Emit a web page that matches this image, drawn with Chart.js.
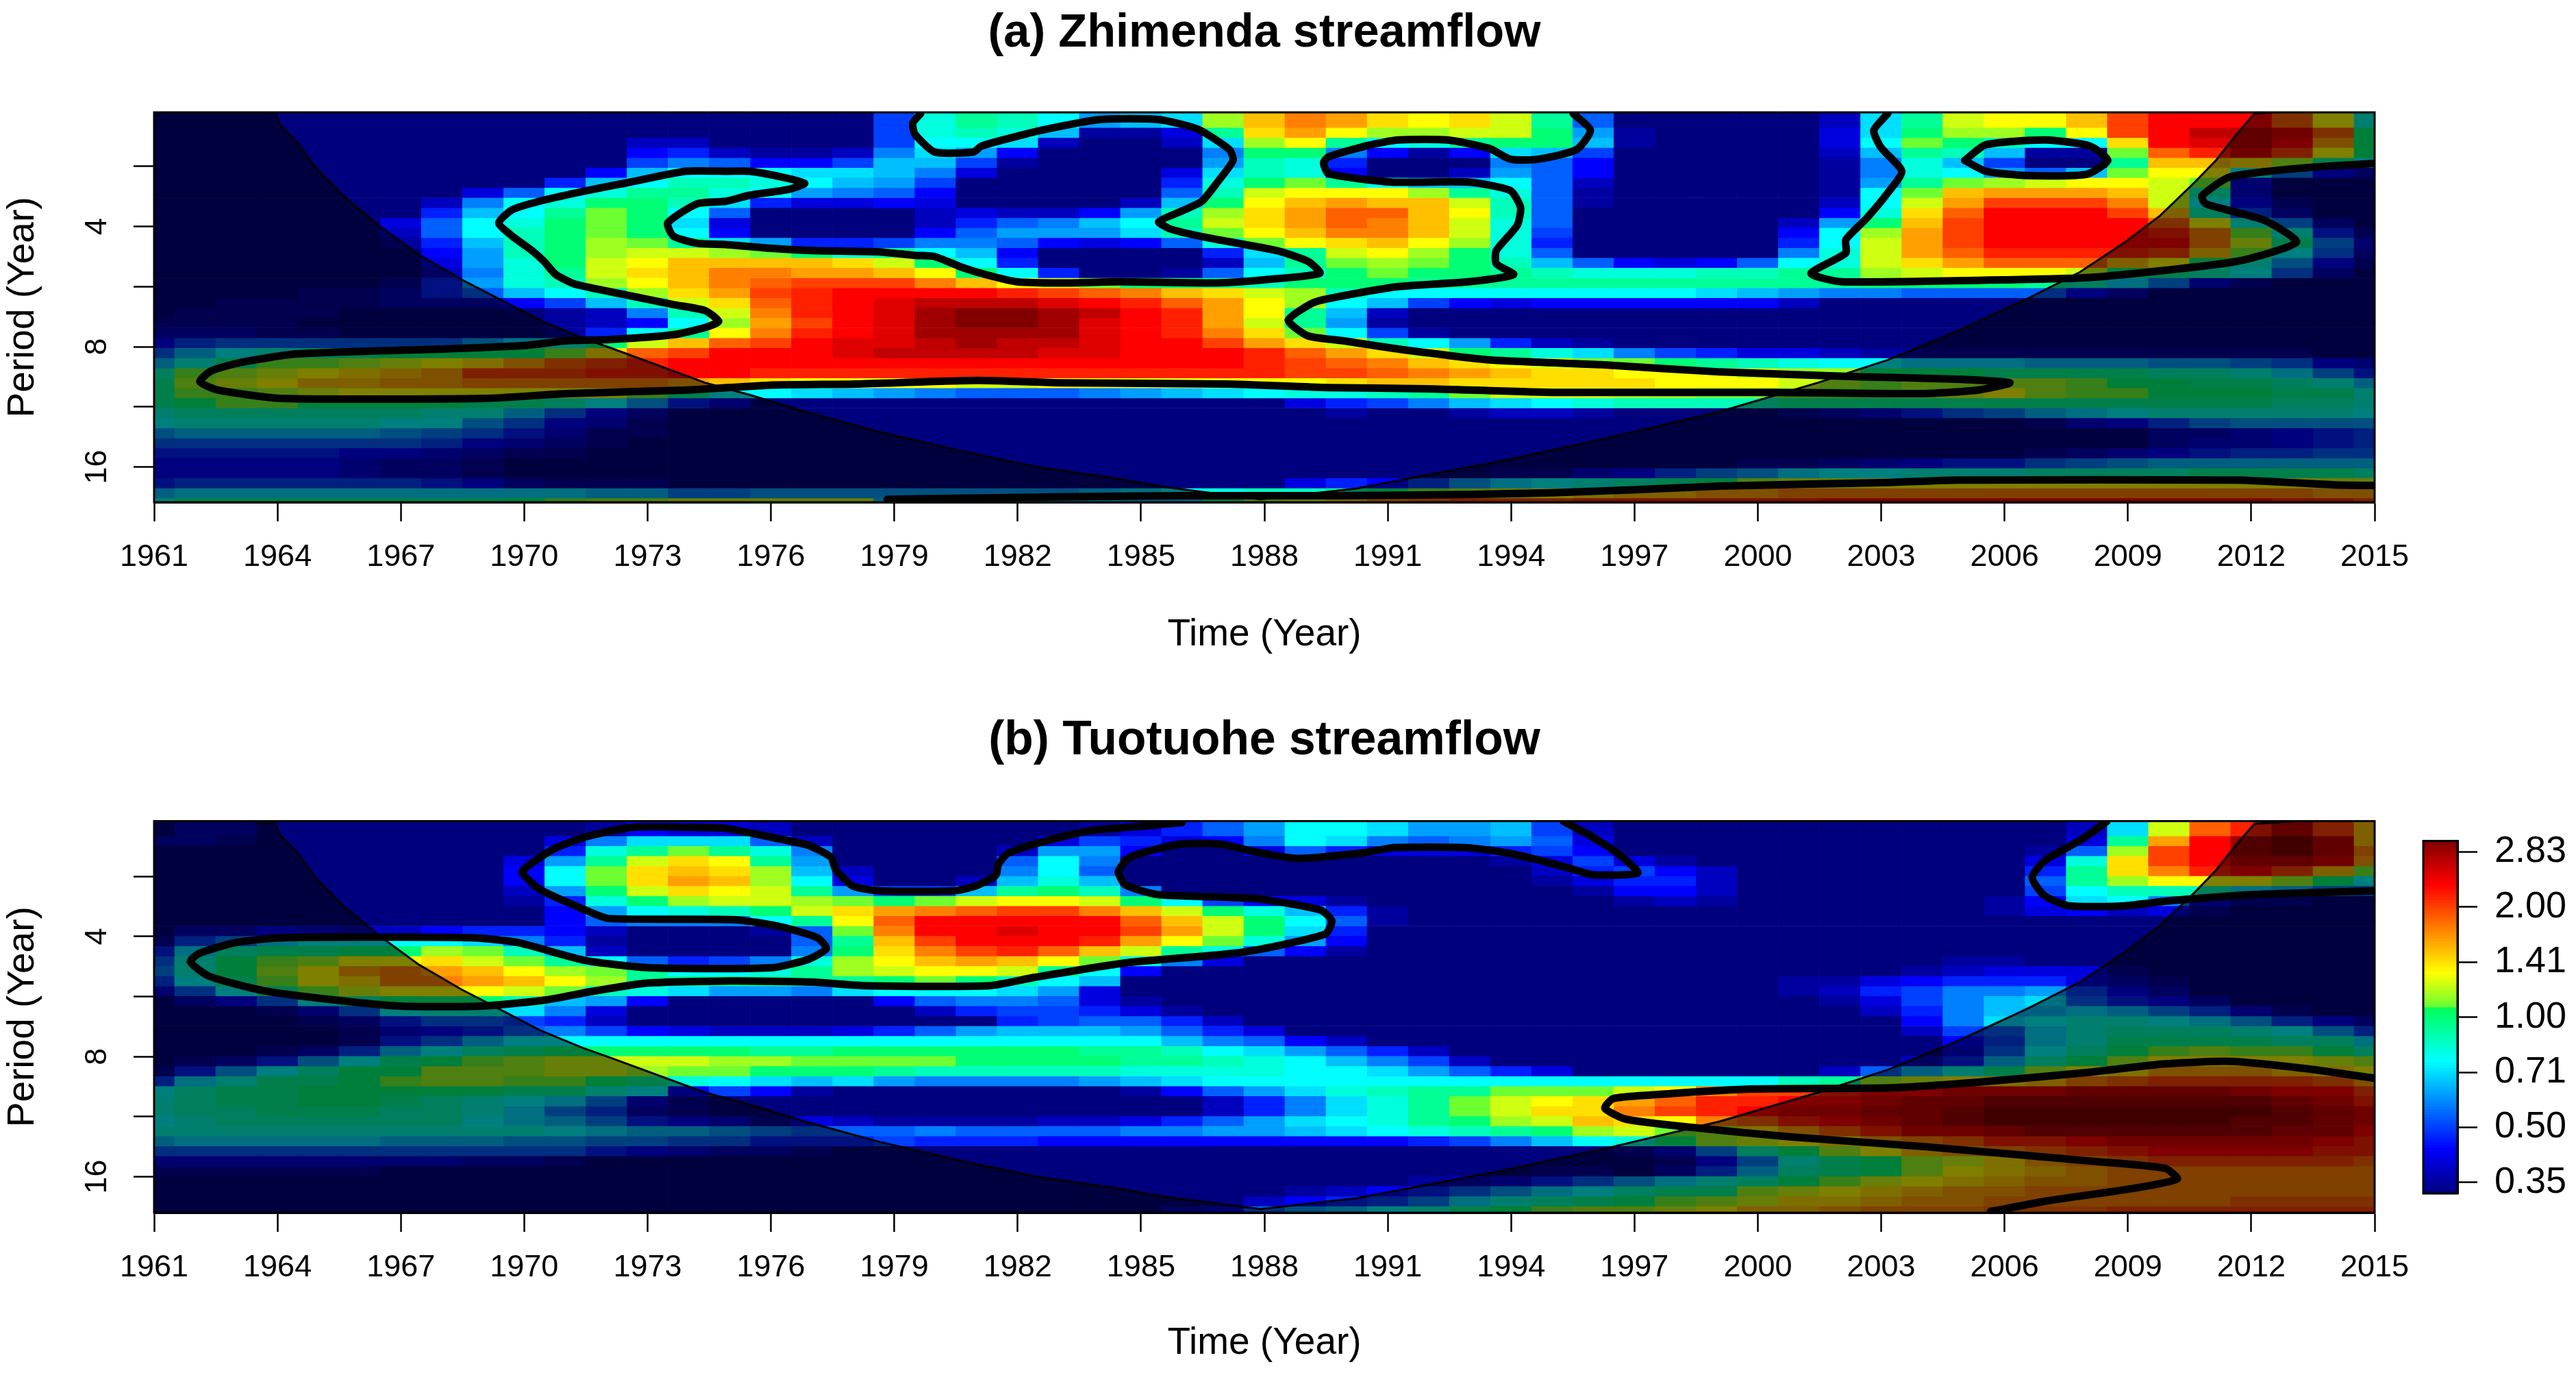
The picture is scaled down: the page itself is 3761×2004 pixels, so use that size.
<!DOCTYPE html>
<html>
<head>
<meta charset="utf-8">
<title>Wavelet power</title>
<script src="https://cdn.jsdelivr.net/npm/chart.js@4/dist/chart.umd.js"></script>
<style>
  html, body { margin: 0; padding: 0; background: #fff; }
  body { position: relative; width: 3761px; height: 2004px; overflow: hidden; }
  canvas { position: absolute; display: block; }
</style>
</head>
<body>
<canvas id="panel-a" width="3761" height="1000" style="left:0;top:0"></canvas>
<canvas id="panel-b" width="3761" height="970" style="left:0;top:1034px"></canvas>
<canvas id="colour-bar" width="261" height="630" style="left:3500px;top:1170px"></canvas>
<script>
// Cell values are colour levels: power = 2^((level - 16) / 10)
// Each row is one period band, top of the plot first, one value per year 1961..2015
const a00 = [0,0,0,0,0,0,0,0,0,0,0,0,0,0,0, 0,0,0,6,13,15,14,12,9,10,11,18,22,24,23, 21,20,21,19,15,7,0,0,0,0,0,2,11,15,19, 20,20,22,26,28,28,28,25,20,13];
const a01 = [0,0,0,0,0,0,0,0,0,0,0,0,0,0,0, 0,0,0,6,13,14,13,10,1,1,3,15,21,23,20, 18,18,19,19,16,9,1,0,0,0,0,3,11,16,18, 18,16,20,26,28,30,30,29,25,16];
const a02 = [0,0,0,0,0,0,0,0,0,0,0,0,2,2,0, 0,0,0,6,12,12,11,2,0,0,2,11,18,20,15, 12,13,15,16,16,10,1,0,0,0,0,3,12,17,16, 14,12,12,21,28,29,30,28,23,16];
const a03 = [0,0,0,0,0,0,0,0,0,0,0,0,4,5,2, 1,1,2,8,11,9,4,0,0,0,0,8,16,16,8, 4,1,4,11,10,6,0,0,0,0,0,2,10,15,14, 10,1,1,17,25,27,29,26,20,16];
const a04 = [0,0,0,0,0,0,0,0,0,0,0,0,6,8,7, 4,4,6,10,10,6,1,0,0,0,0,9,14,13,5, 0,0,0,8,7,4,0,0,0,0,0,1,8,13,10, 6,0,0,15,22,22,21,18,15,12];
const a05 = [0,0,0,0,0,0,0,0,0,0,0,4,10,12,12, 12,11,11,10,8,3,0,0,0,0,3,11,14,13,4, 0,0,2,9,7,4,0,0,0,0,0,1,8,13,12, 9,7,10,17,20,20,12,8,4,2];
const a06 = [0,0,0,0,0,0,0,0,0,0,5,10,12,14,14, 13,12,10,9,6,0,0,0,0,0,5,13,16,17,15, 12,10,10,12,7,2,0,0,0,0,0,1,9,15,17, 18,19,20,20,19,17,3,0,0,0];
const a07 = [0,0,0,0,0,0,0,0,3,7,12,13,15,15,13, 12,9,8,7,4,0,0,0,0,0,7,14,19,20,20, 20,18,15,13,7,1,0,0,0,0,0,1,12,17,22, 23,23,23,22,19,14,3,0,0,0];
const a08 = [0,0,0,0,0,0,0,2,8,12,13,16,16,14,11, 5,3,3,4,3,0,0,0,0,2,10,16,20,22,23, 22,22,19,14,7,1,0,0,0,0,0,2,12,19,23, 26,26,26,24,19,12,4,1,0,0];
const a09 = [0,0,0,0,0,0,0,5,10,12,15,17,16,12,7, 0,0,0,0,2,3,2,2,4,9,14,18,21,23,25, 25,22,20,14,7,0,0,0,0,0,0,4,13,21,25, 28,28,28,26,22,14,6,2,0,0];
const a10 = [0,0,0,0,0,0,3,7,12,13,16,17,16,11,3, 0,0,0,0,2,5,7,8,10,12,15,19,21,23,25, 24,22,19,13,7,0,0,0,0,0,2,9,16,22,26, 28,28,28,28,25,20,13,8,2,0];
const a11 = [0,0,0,0,0,0,2,7,12,14,16,17,16,12,4, 0,0,0,0,4,7,9,9,9,11,14,17,20,22,24, 24,22,19,13,6,0,0,0,0,0,4,12,18,23,26, 28,28,28,28,27,24,17,13,5,1];
const a12 = [0,0,0,0,0,0,1,5,10,14,16,18,17,15,11, 9,5,5,6,8,8,7,4,3,4,7,13,17,20,21, 22,20,18,13,5,0,0,0,0,0,5,12,19,23,26, 28,28,28,28,28,24,19,15,8,3];
const a13 = [0,0,0,0,0,0,0,4,9,14,16,18,19,19,18, 17,16,13,15,12,10,4,0,0,0,0,5,11,15,19, 20,18,16,13,7,0,0,0,0,0,8,13,19,23,25, 27,27,27,27,26,22,17,12,7,2];
const a14 = [0,0,0,0,0,0,0,3,9,13,16,19,20,22,22, 22,22,21,19,16,12,5,0,0,0,0,2,10,15,17, 18,17,16,14,10,7,4,3,4,7,12,13,19,21,23, 25,25,25,22,20,16,13,9,4,1];
const a15 = [0,0,0,0,0,0,0,2,8,13,15,19,21,22,24, 24,23,23,22,20,16,12,5,0,0,1,7,12,14,16, 17,16,16,15,14,13,13,13,14,14,15,15,18,19,20, 20,20,19,16,15,14,12,7,2,0];
const a16 = [0,0,0,0,0,0,1,5,9,13,14,18,20,22,24, 25,26,26,26,24,22,20,19,17,16,16,15,14,16,16, 16,15,15,15,15,15,15,15,15,15,15,15,16,16,16, 16,15,14,11,8,3,1,0,0,0];
const a17 = [0,0,0,0,1,1,2,5,7,10,12,14,18,21,23, 26,27,28,28,28,28,27,26,25,24,22,21,19,18,14, 12,12,12,12,12,12,12,12,11,10,9,8,8,7,7, 7,7,4,2,0,0,0,0,0,0];
const a18 = [0,0,1,1,1,1,2,2,2,4,6,10,14,19,21, 25,27,28,29,30,30,30,29,28,27,25,23,20,18,12, 10,6,4,3,4,4,4,4,4,4,2,0,0,0,0, 0,0,0,0,0,0,0,0,0,0];
const a19 = [0,1,1,1,1,0,0,0,0,0,1,2,8,14,19, 24,27,28,29,31,32,32,31,30,28,27,23,20,15,10, 2,0,0,0,0,0,0,0,0,0,0,0,0,0,0, 0,0,0,0,0,0,0,0,0,0];
const a20 = [1,1,1,1,0,0,0,0,0,0,1,2,4,12,18, 23,26,28,29,31,32,32,31,29,28,27,23,19,15,9, 1,0,0,0,0,0,0,0,0,0,0,0,0,0,0, 0,0,0,0,0,0,0,0,0,0];
const a21 = [2,2,2,1,1,0,0,0,0,0,1,5,12,15,20, 24,27,28,29,31,31,31,31,29,28,27,24,21,17,12, 6,1,0,0,0,0,0,0,0,0,0,0,0,0,0, 0,0,0,0,0,0,0,0,0,0];
const a22 = [4,6,7,7,7,7,7,7,9,11,13,16,19,22,25, 26,28,29,29,30,31,30,30,29,28,28,26,23,21,19, 14,12,9,5,2,1,0,0,0,0,0,0,0,0,0, 0,0,0,0,0,0,0,0,0,0];
const a23 = [7,10,12,13,14,15,16,16,16,16,17,21,25,26,28, 28,28,29,30,30,30,30,29,29,28,28,28,27,25,23, 21,19,16,15,13,11,8,6,5,3,3,2,1,1,1, 1,1,1,1,1,1,1,1,0,0];
const a24 = [10,13,15,17,17,18,19,20,21,23,25,26,27,28,28, 28,28,28,28,28,28,28,28,28,28,28,28,27,26,25, 24,22,21,20,19,17,17,16,15,14,13,12,12,11,11, 11,10,10,10,9,9,8,7,4,3];
const a25 = [14,17,18,19,20,21,22,23,26,26,26,27,27,28,28, 27,27,27,27,27,27,27,27,27,27,27,27,27,26,26, 25,24,23,22,21,21,20,20,20,19,18,18,16,16,16, 15,15,15,15,14,14,13,11,8,5];
const a26 = [15,18,19,20,22,22,23,23,24,24,24,24,24,23,22, 21,20,20,20,20,19,19,20,20,20,20,20,20,20,21, 22,22,21,21,21,21,21,20,20,20,19,18,17,18,18, 18,18,17,16,16,15,15,14,13,10];
const a27 = [15,17,17,18,19,20,20,20,20,20,20,20,17,15,12, 12,11,10,9,8,7,7,7,8,9,10,11,12,13,13, 14,15,17,19,19,19,18,18,17,17,17,17,17,18,19, 20,18,17,17,16,16,16,15,15,13];
const a28 = [15,16,17,17,16,16,16,16,15,15,14,12,9,5,3, 0,0,0,0,0,0,0,0,0,0,0,0,0,3,5, 6,8,10,11,12,13,14,14,14,14,15,15,15,15,15, 15,15,15,15,15,15,15,14,14,13];
const a29 = [13,14,14,14,14,14,14,13,13,10,7,4,2,0,0, 0,0,0,0,0,0,0,0,0,0,0,0,0,0,1, 0,0,1,2,2,1,0,0,0,0,1,2,3,5,7, 8,10,11,12,13,13,13,13,13,12];
const a30 = [12,13,13,13,13,13,12,12,9,7,4,3,1,0,0, 0,0,0,0,0,0,0,0,0,0,0,0,0,0,0, 0,0,0,0,0,0,0,0,0,0,0,0,0,0,0, 0,1,3,4,6,8,9,9,9,9];
const a31 = [9,10,10,10,10,10,9,8,7,5,3,1,1,0,0, 0,0,0,0,0,0,0,0,0,0,0,0,0,0,0, 0,0,0,0,0,0,0,0,0,0,0,0,0,0,0, 0,0,0,0,2,2,3,4,5,6];
const a32 = [7,7,7,7,7,7,7,6,4,3,2,1,0,0,0, 0,0,0,0,0,0,0,0,0,0,0,0,0,0,0, 0,0,0,0,0,0,0,0,0,0,0,0,0,0,0, 0,0,0,0,2,3,3,4,5,6];
const a33 = [5,5,5,5,5,4,4,3,2,1,1,0,0,0,0, 0,0,0,0,0,0,0,0,0,0,0,0,0,0,0, 0,0,0,0,0,0,0,0,0,0,0,0,0,0,0, 0,1,2,3,4,5,6,6,7,7];
const a34 = [4,4,4,4,4,3,2,2,1,0,0,0,0,0,0, 0,0,0,0,0,0,0,0,0,0,0,0,0,0,0, 0,0,0,0,0,0,0,0,0,1,1,2,3,4,5, 5,7,8,9,10,10,10,10,10,10];
const a35 = [4,4,4,4,4,3,2,2,1,0,0,0,0,0,0, 0,0,0,0,0,0,0,0,0,0,0,0,0,0,0, 0,0,0,1,1,3,4,6,8,9,11,12,12,13,13, 13,14,14,14,14,15,15,15,15,14];
const a36 = [5,6,6,6,6,6,6,5,4,2,1,1,1,0,0, 0,0,0,0,0,0,0,0,0,0,0,0,0,3,5, 4,6,9,11,12,13,14,15,16,18,19,19,20,20,20, 20,20,20,20,20,20,20,20,19,19];
const a37 = [10,11,11,11,11,11,11,11,11,11,11,10,10,8,8, 9,9,9,9,9,9,9,9,10,11,12,13,14,14,15, 16,17,18,19,20,21,22,22,23,23,24,24,24,24,24, 24,24,24,24,24,24,24,24,23,23];
const a38 = [13,15,15,15,15,15,15,15,15,16,17,18,18,19,19, 19,19,19,10,10,10,10,10,10,10,10,16,18,19,22, 24,25,26,26,26,27,27,27,27,27,27,28,28,28,28, 28,28,28,28,28,28,28,27,27,26];

const b00 = [0,2,2,0,0,0,0,0,0,0,0,1,4,3,3, 2,0,0,0,0,0,0,0,1,3,5,7,9,12,12, 11,9,9,10,6,2,0,0,0,0,0,0,0,0,0, 0,0,2,11,19,25,27,30,26,22];
const b01 = [2,2,1,0,0,0,0,0,0,0,3,8,11,11,11, 7,2,0,0,0,0,0,3,6,5,3,4,8,12,11, 8,7,8,9,7,3,0,0,0,0,0,0,0,0,0, 0,0,3,15,23,28,31,32,30,22];
const b02 = [0,0,0,0,0,0,0,0,0,0,5,13,15,17,15, 13,8,0,0,0,0,2,9,9,4,0,0,3,7,5, 3,3,3,5,6,4,0,0,0,0,0,0,0,0,0, 0,1,7,18,26,28,31,32,30,24];
const b03 = [0,0,0,0,0,0,0,0,0,3,9,15,19,21,20, 15,9,0,0,0,0,7,12,8,0,0,0,0,0,0, 0,0,0,1,3,6,3,1,0,0,0,0,0,0,0, 0,3,13,21,26,28,30,30,29,23];
const b04 = [0,0,0,0,0,0,0,0,0,4,12,17,21,22,21, 18,10,2,0,0,0,8,12,7,0,0,0,0,0,0, 0,0,0,0,2,5,6,4,2,0,0,0,0,0,0, 0,5,15,21,24,27,28,26,22,17];
const b05 = [0,0,0,0,0,0,0,0,0,4,12,17,21,23,22, 18,12,3,0,0,2,10,13,10,0,0,0,0,0,0, 0,0,0,0,1,3,5,5,2,0,0,0,0,0,0, 0,7,15,18,20,20,20,18,16,12];
const b06 = [0,0,0,0,0,0,0,0,0,2,9,16,19,21,20, 19,15,9,6,6,10,15,16,14,8,0,0,0,0,0, 0,0,0,0,0,1,4,4,2,0,0,0,0,0,0, 0,6,12,14,14,14,11,10,8,7];
const b07 = [0,0,0,0,0,0,0,0,0,1,5,13,16,18,19, 19,18,17,16,17,19,20,20,19,16,12,6,4,3,1, 0,0,0,0,0,0,1,2,1,0,0,0,0,0,0, 1,4,11,12,8,3,1,1,0,0];
const b08 = [0,0,0,0,0,0,0,0,0,0,4,9,12,13,14, 16,19,21,23,24,25,26,26,24,22,19,16,13,10,5, 1,0,0,0,0,0,0,0,0,0,0,0,0,0,0, 1,3,4,2,3,1,0,0,0,0];
const b09 = [0,0,0,0,0,0,0,0,0,0,4,7,8,8,8, 12,15,20,25,28,28,28,28,28,25,22,19,16,12,7, 1,0,0,0,0,0,0,0,0,0,0,0,0,0,0, 0,0,0,0,0,0,0,0,0,0];
const b10 = [0,2,2,4,3,2,2,4,5,5,4,2,0,0,0, 1,7,17,24,28,28,29,28,28,26,23,19,16,11,5, 0,0,0,0,0,0,0,0,0,0,0,0,0,0,0, 0,0,0,0,0,0,0,0,0,0];
const b11 = [1,6,8,11,12,12,12,12,11,8,5,1,0,0,0, 0,7,15,22,26,28,28,28,27,23,20,17,13,9,4, 0,0,0,0,0,0,0,0,0,0,0,0,0,0,0, 0,0,0,0,0,0,0,0,0,0];
const b12 = [5,11,14,15,15,16,16,18,17,14,10,2,0,0,0, 0,8,16,21,24,26,27,25,22,19,15,13,7,4,1, 0,0,0,0,0,0,0,0,0,0,0,0,0,0,0, 0,0,0,0,0,0,0,0,0,0];
const b13 = [7,13,16,17,18,20,20,21,19,17,15,12,7,5,6, 8,13,18,20,22,23,22,20,17,13,8,3,0,0,0, 0,0,0,0,0,0,0,0,0,0,0,0,0,0,1, 1,0,0,0,0,0,0,0,0,0];
const b14 = [8,13,16,18,20,23,24,23,22,20,18,17,15,12,12, 13,15,18,19,20,20,19,15,12,4,0,0,0,0,0, 0,0,0,0,0,0,0,0,0,0,0,0,0,1,2, 3,3,3,1,0,0,0,0,0,0];
const b15 = [6,12,15,17,20,21,24,24,23,22,20,18,15,15,15, 15,15,15,16,17,16,14,12,10,0,0,0,0,0,0, 0,0,0,0,0,0,0,0,0,0,1,1,3,4,5, 5,5,3,2,1,0,0,0,0,0];
const b16 = [3,7,12,15,17,19,20,20,20,19,17,14,13,11,9, 9,8,11,12,12,12,11,9,3,0,0,0,0,0,0, 0,0,0,0,0,0,0,0,0,0,1,2,5,6,8, 8,9,6,4,2,0,0,0,0,0];
const b17 = [0,2,4,7,12,14,16,16,16,14,10,9,4,0,0, 0,0,0,4,7,8,8,7,3,1,0,0,0,0,0, 0,0,0,0,0,0,0,0,0,0,0,1,3,6,8, 10,11,7,5,4,2,0,0,0,0];
const b18 = [0,0,0,1,3,7,12,13,13,11,8,3,0,0,0, 0,0,0,0,2,5,6,6,5,3,1,0,0,0,0, 0,0,0,0,0,0,0,0,0,0,0,0,2,5,8, 10,10,11,10,8,6,3,1,0,0];
const b19 = [0,0,0,0,1,2,5,7,7,6,5,2,0,0,0, 0,0,0,0,0,0,5,6,7,7,5,2,0,0,0, 0,0,0,0,0,0,0,0,0,0,0,0,0,4,8, 11,12,13,13,12,11,9,6,4,2];
const b20 = [0,0,0,0,0,1,3,4,5,7,8,6,4,3,2, 2,2,3,5,7,9,10,10,10,9,7,5,3,0,0, 0,0,0,0,0,0,0,0,0,0,0,0,0,2,6, 7,11,13,14,14,14,13,12,9,6];
const b21 = [0,0,0,0,0,1,5,7,10,12,12,12,12,12,12, 12,12,12,12,12,12,12,12,12,12,10,8,7,4,2, 0,0,0,0,0,0,0,0,0,0,0,0,0,0,4, 6,11,13,15,15,15,15,14,14,11];
const b22 = [0,0,0,1,2,6,10,12,14,15,16,16,16,16,16, 15,15,16,16,16,16,16,16,15,15,14,12,11,9,7, 5,2,0,0,0,0,0,0,0,0,0,0,0,0,3, 7,12,14,16,17,18,17,17,16,14];
const b23 = [0,1,2,5,9,12,15,16,17,18,19,19,19,19,18, 18,17,17,17,17,16,16,16,16,15,15,14,13,12,10, 8,6,2,0,0,0,0,0,0,0,0,0,0,2,5, 10,14,16,18,20,20,20,20,19,18];
const b24 = [1,5,9,12,14,16,16,18,18,18,19,19,18,17,17, 16,16,16,15,14,14,14,14,14,13,13,13,13,12,12, 11,9,7,5,3,0,0,0,0,0,0,2,7,10,13, 15,18,20,21,23,23,23,22,21,20];
const b25 = [6,11,13,15,15,16,17,18,18,17,17,16,15,13,12, 11,10,11,9,8,8,8,8,9,10,11,12,12,12,12, 12,12,12,12,12,12,12,12,12,12,14,15,18,19,20, 21,22,24,25,26,26,26,26,25,23];
const b26 = [12,14,15,15,16,16,16,16,16,15,15,13,12,4,6, 4,1,0,0,0,0,0,0,0,1,4,7,9,11,13, 14,15,15,17,17,17,19,20,24,26,26,27,28,28,29, 29,29,30,30,30,30,29,28,28,26];
const b27 = [13,14,15,15,16,16,15,14,13,12,11,8,3,1,0, 0,0,0,0,0,0,0,0,0,0,0,2,5,8,11, 13,15,17,19,20,21,23,25,27,27,28,28,29,30,30, 31,31,31,31,31,31,31,30,29,27];
const b28 = [13,14,14,15,15,15,14,14,13,11,8,6,2,1,0, 0,0,0,0,0,0,0,0,0,0,0,2,5,8,11, 13,15,17,19,21,21,24,26,27,28,29,29,30,30,31, 32,32,32,32,32,32,32,31,30,29];
const b29 = [12,13,14,14,14,14,14,14,12,11,10,8,5,4,3, 1,3,2,1,1,1,1,2,2,3,5,7,9,11,12, 13,15,16,18,19,22,21,20,24,25,27,28,29,30,31, 32,32,32,32,32,32,31,31,30,29];
const b30 = [13,13,13,13,13,13,13,13,13,13,12,11,10,10,9, 8,7,7,7,8,7,7,7,7,8,8,9,9,10,11, 12,13,14,15,16,18,19,17,18,21,23,25,27,29,29, 30,31,31,31,31,31,31,30,30,28];
const b31 = [10,11,11,11,11,11,10,10,10,9,9,8,8,7,7, 5,5,5,6,5,5,5,4,4,4,4,4,4,4,4, 4,5,6,8,10,12,13,16,18,19,20,21,23,24,25, 27,27,28,29,29,29,29,29,28,27];
const b32 = [7,7,7,7,7,7,7,7,7,7,7,5,4,3,2, 2,1,0,0,0,0,0,0,0,0,0,0,0,0,0, 0,0,0,0,0,0,1,3,8,14,16,18,20,22,23, 24,25,26,27,28,28,28,28,27,27];
const b33 = [3,3,3,3,3,3,3,3,2,2,1,0,0,0,0, 0,0,0,0,0,0,0,0,0,0,0,0,0,0,0, 0,0,0,0,0,0,0,1,4,8,13,15,16,18,19, 21,23,24,25,26,26,26,26,26,25];
const b34 = [1,1,1,1,1,1,0,0,0,0,0,0,0,0,0, 0,0,0,0,0,0,0,0,0,0,0,0,0,0,0, 0,0,0,0,1,1,0,2,6,10,14,15,16,18,20, 21,22,23,24,24,24,24,24,24,24];
const b35 = [0,0,0,0,0,0,0,0,0,0,0,0,0,0,0, 0,0,0,0,0,0,0,0,0,0,0,0,0,0,0, 0,1,2,3,5,7,9,11,13,14,16,17,19,20,21, 22,23,23,24,24,24,24,24,24,24];
const b36 = [0,0,0,0,0,0,0,0,0,0,0,0,0,0,0, 0,0,0,0,0,0,0,0,0,0,0,0,0,1,2, 4,5,7,9,11,12,14,15,15,18,19,20,21,22,23, 23,24,24,24,24,24,24,24,24,24];
const b37 = [0,0,0,0,0,0,0,0,0,0,0,0,0,0,0, 0,0,0,0,0,0,0,0,0,0,0,0,2,4,5, 6,8,11,13,14,15,16,17,18,19,21,21,22,23,23, 24,24,24,24,24,24,25,25,25,25];
const b38 = [0,0,0,0,0,0,0,0,0,0,0,0,0,0,0, 0,0,0,0,0,0,0,0,0,0,2,3,7,9,10, 12,13,15,16,17,18,18,19,20,22,22,23,24,24,24, 25,25,25,26,26,26,26,26,26,26];

const rowsA = [a00,a01,a02,a03,a04,a05,a06,a07,a08,a09,a10,a11,a12,a13,a14,a15,a16,a17,a18,a19,a20,a21,a22,a23,a24,a25,a26,a27,a28,a29,a30,a31,a32,a33,a34,a35,a36,a37,a38];
const rowsB = [b00,b01,b02,b03,b04,b05,b06,b07,b08,b09,b10,b11,b12,b13,b14,b15,b16,b17,b18,b19,b20,b21,b22,b23,b24,b25,b26,b27,b28,b29,b30,b31,b32,b33,b34,b35,b36,b37,b38];

const years = Array.from({ length: 55 }, (_, i) => 1961 + i);
const xTickYears = [1961,1964,1967,1970,1973,1976,1979,1982,1985,1988,1991,1994,1997,2000,2003,2006,2009,2012,2015];
const yTickLog2 = [1.5,2,2.5,3,3.5,4];

// Period band edges, log2(years)
const rowEdges = [1.05,1.177,1.26,1.343,1.427,1.51,1.593,1.677,1.76,1.843,1.927,2.01,2.093,2.177,2.26,2.343,2.427,2.51,2.593,2.677,2.76,2.843,2.927,3.01,3.093,3.177,3.26,3.343,3.427,3.51,3.593,3.677,3.76,3.843,3.927,4.01,4.093,4.177,4.26,4.35];

// Cone of influence
const coiYears = [1961,1963.93,1964.07,1964.46,1964.93,1965.6,1966.46,1967.42,1968.47,1969.43,1970.38,1971.44,1972.1,1974.4,1975.48,1976.82,1978.64,1980.65,1982.46,1984.47,1985.62,1987.9,1990.24,1991.77,1993.64,1996.36,1999.08,2001.46,2003.16,2004.86,2006.56,2007.83,2008.93,2009.78,2010.63,2011.14,2011.65,2012.08,2015];
const coiLog2 = [1.0,1.05,1.16,1.29,1.51,1.745,1.99,2.23,2.44,2.61,2.78,2.93,3.01,3.30,3.40,3.54,3.71,3.87,4.0,4.10,4.17,4.27,4.18,4.08,3.96,3.76,3.54,3.30,3.11,2.87,2.60,2.38,2.13,1.91,1.63,1.45,1.23,1.06,1.0];

// Significance contours, panel a
const contourA1Years = [1995.51,1995.93,1995.59,1994.66,1993.98,1993.47,1992.45,1991.26,1990.58,1989.56,1989.44,1989.56,1991.09,1992.96,1993.98,1994.23,1994.15,1993.64,1993.64,1994.06,1992.96,1991.26,1989.56,1989.15,1988.58,1989.06,1989.9,1991.26,1993.47,1996.19,1999.08,2002.48,2004.86,2006.13,2005.37,2004,2000.44,1995,1991.94,1989.56,1987.05,1983.04,1981.03,1978.06,1975.96,1974.02,1971.05,1969.05,1964.07,1962.54,1962.11,1962.4,1963.12,1964.46,1966.94,1968,1970,1971.05,1972.1,1973.63,1974.4,1974.73,1974.4,1973.63,1972.49,1971.24,1970.77,1970.48,1970.19,1969.71,1969.38,1969.71,1970.48,1971.53,1972.58,1973.92,1974.97,1975.48,1976.15,1976.82,1976.44,1975.48,1974.91,1974.21,1973.49,1973.63,1974.21,1974.91,1975.96,1977.01,1978.59,1979.5,1979.98,1980.65,1981.22,1981.98,1983.04,1984.47,1986.86,1988.1,1989.35,1989.06,1988.29,1986.57,1985.71,1985.43,1986,1986.48,1986.86,1987.24,1987.15,1986.38,1985.43,1984,1982.56,1981.12,1980.93,1979.98,1979.5,1979.45,1979.64];
const contourA1Log2 = [1.06,1.2,1.36,1.44,1.44,1.35,1.28,1.28,1.32,1.42,1.47,1.56,1.63,1.63,1.7,1.84,1.99,2.2,2.31,2.4,2.46,2.5,2.6,2.64,2.78,2.91,2.95,3.02,3.11,3.15,3.21,3.25,3.27,3.3,3.36,3.39,3.38,3.38,3.35,3.34,3.31,3.3,3.28,3.31,3.32,3.36,3.39,3.43,3.43,3.36,3.29,3.2,3.13,3.06,3.03,3.02,2.99,2.95,2.94,2.9,2.84,2.79,2.7,2.65,2.57,2.48,2.4,2.29,2.2,2.08,1.97,1.86,1.78,1.7,1.63,1.54,1.54,1.54,1.58,1.64,1.69,1.74,1.79,1.81,1.97,2.08,2.14,2.15,2.18,2.2,2.21,2.24,2.25,2.34,2.4,2.46,2.47,2.46,2.47,2.44,2.39,2.29,2.2,2.09,2.02,1.96,1.87,1.79,1.63,1.45,1.36,1.19,1.11,1.11,1.2,1.33,1.38,1.38,1.23,1.14,1.06];
const contourA2Years = [2005.03,2005.54,2006.98,2008.08,2008.51,2008,2006.55,2005.54,2005.03];
const contourA2Log2 = [1.45,1.32,1.28,1.33,1.45,1.565,1.576,1.54,1.45];
const contourA3Years = [2003.16,2002.82,2002.99,2003.5,2003.16,2002.65,2002.14,2002.14,2001.29,2002.05,2006.55,2008.25,2011.65,2013.1,2012.33,2010.89,2010.8,2011.48,2013.35,2015];
const contourA3Log2 = [1.06,1.2,1.34,1.54,1.72,1.93,2.11,2.22,2.39,2.46,2.44,2.42,2.29,2.13,1.95,1.81,1.745,1.587,1.51,1.475];
const contourA4Years = [1978.83,1982.94,1986,1989.82,1992.96,1995,1997.04,1999.08,2003.16,2004.86,2011.65,2014.03,2015];
const contourA4Log2 = [4.27,4.25,4.24,4.24,4.23,4.215,4.19,4.16,4.13,4.11,4.11,4.15,4.155];

// Significance contours, panel b
const contourB1Years = [1986,1985.06,1983.73,1982.41,1981.75,1981.53,1981.47,1980.97,1980.42,1978.65,1977.99,1977.57,1977.46,1976.91,1976.25,1974.92,1974.04,1972.6,1971.49,1970.72,1970.06,1969.95,1970.39,1971.49,1972.05,1975.14,1976.25,1977.13,1977.35,1976.91,1976.02,1973.04,1971.49,1969.84,1968.73,1964.09,1962.99,1962.1,1961.88,1962.33,1963.65,1965.42,1966.97,1968.95,1970.5,1971.61,1972.93,1975.03,1977.02,1978.32,1981.3,1982.41,1984.62,1987.49,1989.48,1989.64,1989.37,1987.93,1986.83,1985.39,1984.62,1984.45,1984.73,1985.94,1986.94,1987.71,1988.82,1990.47,1991.14,1992.9,1994.01,1995.31,1995.97,1997.08,1996.58,1995.97,1995.27];
const contourB1Log2 = [1.05,1.08,1.12,1.23,1.31,1.4,1.49,1.58,1.62,1.62,1.58,1.44,1.34,1.24,1.19,1.1,1.09,1.09,1.17,1.27,1.42,1.47,1.61,1.78,1.85,1.86,1.92,2.01,2.1,2.19,2.26,2.26,2.2,2.05,2.01,2.01,2.05,2.14,2.21,2.33,2.45,2.53,2.58,2.58,2.53,2.46,2.39,2.37,2.38,2.41,2.41,2.34,2.22,2.13,1.98,1.87,1.78,1.69,1.67,1.65,1.57,1.46,1.34,1.23,1.23,1.29,1.35,1.3,1.26,1.26,1.31,1.42,1.485,1.47,1.305,1.17,1.04];
const contourB2Years = [2008.49,2007.88,2006.97,2006.67,2006.97,2007.58,2008.89,2010.1,2012.12,2015];
const contourB2Log2 = [1.04,1.19,1.37,1.51,1.66,1.745,1.745,1.7,1.65,1.62];
const contourB3Years = [2015,2013.33,2011.51,2009.9,2008.08,2005.46,2003.24,1999.81,1997.39,1996.48,1996.28,1996.78,1998.39,2000.82,2004.05,2008.08,2009.9,2010.2,2009.09,2007.07,2005.66];
const contourB3Log2 = [3.18,3.1,3.04,3.06,3.13,3.21,3.26,3.27,3.32,3.35,3.43,3.52,3.59,3.67,3.75,3.87,3.93,4.02,4.1,4.2,4.29];

const legendTickLevels = [1,6,11,16,21,26,31];
const legendTickLabels = ['0.35','0.50','0.71','1.00','1.41','2.00','2.83'];

const FONT = '"Liberation Sans", Arial, sans-serif';
const jetStops = [
    [0, 0, 0, 127], [4, 0, 0, 255], [8, 0, 127, 255], [12, 0, 255, 255],
    [16.9, 0, 255, 85], [17, 110, 255, 50], [20, 255, 255, 0],
    [24, 255, 128, 0], [28, 255, 0, 0], [32, 128, 0, 0]
];

function jetColor(level) {
    const v = Math.max(0, Math.min(32, level));
    let i = 0;
    while (i < jetStops.length - 2 && v > jetStops[i + 1][0]) i++;
    const a = jetStops[i], b = jetStops[i + 1];
    const t = (v - a[0]) / (b[0] - a[0]);
    const mix = k => Math.round(a[k] + (b[k] - a[k]) * t);
    return `rgb(${mix(1)},${mix(2)},${mix(3)})`;
}

function toPoints(xs, ys) {
    return xs.map((x, i) => ({ x, y: ys[i] }));
}

function heatDatasets(rows, shift) {
    return rows.map((row, k) => ({
        type: 'bar',
        order: 3,
        backgroundColor: row.map(jetColor),
        data: row.map((_, i) => ({ x: years[i], y: [rowEdges[k] + shift, rowEdges[k + 1] + shift] }))
    }));
}

function contourDataset(xs, ys) {
    return {
        type: 'line', order: 1, data: toPoints(xs, ys), borderColor: '#000', borderWidth: 11,
        borderJoinStyle: 'round', borderCapStyle: 'round', pointRadius: 0, tension: 0.2, fill: false, clip: 0
    };
}

function coiDataset() {
    return {
        type: 'line', order: 2, data: toPoints(coiYears, coiLog2), borderColor: '#000', borderWidth: 3,
        backgroundColor: 'rgba(0,0,0,0.5)', pointRadius: 0, tension: 0, fill: 'start', clip: 0
    };
}

const framePlugin = {
    id: 'frame',
    afterDraw(chart) {
        const { ctx, chartArea: c } = chart;
        ctx.save();
        ctx.strokeStyle = '#000';
        ctx.lineWidth = 3;
        ctx.strokeRect(c.left, c.top, c.right - c.left, c.bottom - c.top);
        ctx.restore();
    }
};

function drawPanel(id, opts) {
    return new Chart(document.getElementById(id), {
        type: 'bar',
        data: { datasets: [...heatDatasets(opts.rows, opts.shift), coiDataset(), ...opts.contours] },
        plugins: [framePlugin],
        options: {
            responsive: false,
            animation: false,
            events: [],
            layout: { padding: { left: 0, right: 294, top: 0, bottom: 0 } },
            datasets: { bar: { grouped: false, barPercentage: 1, categoryPercentage: 1, borderWidth: 0 } },
            plugins: {
                legend: { display: false },
                tooltip: { enabled: false },
                title: {
                    display: true, text: opts.title, color: '#000', fullSize: false,
                    font: { family: FONT, size: opts.titleSize, weight: 'bold', lineHeight: 1 },
                    padding: { top: opts.titleTop, bottom: opts.plotTop - opts.titleSize - opts.titleTop }
                }
            },
            scales: {
                x: {
                    type: 'linear', min: 1961, max: 2015, offset: false,
                    afterFit: s => { s.height = opts.height - opts.plotBottom; },
                    afterBuildTicks: s => { s.ticks = xTickYears.map(value => ({ value })); },
                    grid: { offset: false, drawOnChartArea: false, tickLength: 28, tickColor: '#000', tickWidth: 2.5 },
                    border: { color: '#000', width: 3 },
                    ticks: {
                        autoSkip: false, maxRotation: 0, color: '#000', padding: 26,
                        font: { family: FONT, size: 45 }, callback: v => String(v)
                    },
                    title: {
                        display: true, text: 'Time (Year)', color: '#000',
                        font: { family: FONT, size: 55, lineHeight: 1 }, padding: { top: 0, bottom: opts.xTitleBottom }
                    }
                },
                y: {
                    type: 'linear', reverse: true, min: opts.yMin, max: opts.yMax,
                    afterFit: s => { s.width = 225; },
                    afterBuildTicks: s => { s.ticks = yTickLog2.map(value => ({ value })); },
                    grid: { drawOnChartArea: false, tickLength: 30, tickColor: '#000', tickWidth: 2.5 },
                    border: { color: '#000', width: 3 },
                    ticks: {
                        autoSkip: false, minRotation: 90, maxRotation: 90, crossAlign: 'center', color: '#000', padding: 27,
                        font: { family: FONT, size: 45 },
                        callback: v => Number.isInteger(v) ? String(Math.pow(2, v)) : ''
                    },
                    title: {
                        display: true, text: 'Period (Year)', color: '#000',
                        font: { family: FONT, size: 55, lineHeight: 1 }, padding: { top: 6, bottom: 0 }
                    }
                }
            }
        }
    });
}

drawPanel('panel-a', {
    title: '(a) Zhimenda streamflow', rows: rowsA, shift: 0, height: 1000, plotTop: 164, plotBottom: 733,
    titleSize: 68.5, titleTop: 15, xTitleBottom: 46, yMin: 1.05, yMax: 4.294,
    contours: [
        contourDataset(contourA1Years, contourA1Log2), contourDataset(contourA2Years, contourA2Log2),
        contourDataset(contourA3Years, contourA3Log2), contourDataset(contourA4Years, contourA4Log2)
    ]
});

drawPanel('panel-b', {
    title: '(b) Tuotuohe streamflow', rows: rowsB, shift: -0.015, height: 970, plotTop: 164.5, plotBottom: 736,
    titleSize: 69.5, titleTop: 13, xTitleBottom: 16, yMin: 1.039, yMax: 4.30,
    contours: [
        contourDataset(contourB1Years, contourB1Log2), contourDataset(contourB2Years, contourB2Log2),
        contourDataset(contourB3Years, contourB3Log2)
    ]
});

// Colour key: one thin bar per quarter level
const keyLevels = Array.from({ length: 129 }, (_, i) => i / 4);
new Chart(document.getElementById('colour-bar'), {
    type: 'bar',
    data: {
        labels: ['key'],
        datasets: keyLevels.map(level => ({ data: [[level - 0.13, level + 0.13]], backgroundColor: jetColor(level) }))
    },
    plugins: [framePlugin],
    options: {
        responsive: false,
        animation: false,
        events: [],
        layout: { padding: { left: 38, right: 0, top: 0, bottom: 58 } },
        datasets: { bar: { grouped: false, barPercentage: 1, categoryPercentage: 1, borderWidth: 0 } },
        plugins: { legend: { display: false }, tooltip: { enabled: false } },
        scales: {
            x: { display: false },
            y: {
                position: 'right', min: 0, max: 32,
                afterFit: s => { s.width = 173; },
                afterBuildTicks: s => { s.ticks = legendTickLevels.map(value => ({ value })); },
                grid: { drawOnChartArea: false, tickLength: 29, tickColor: '#000', tickWidth: 2.5 },
                border: { color: '#000', width: 3 },
                ticks: {
                    autoSkip: false, color: '#000', padding: 25, font: { family: FONT, size: 54 },
                    callback: v => legendTickLabels[legendTickLevels.indexOf(v)]
                }
            }
        }
    }
});
</script>
</body>
</html>
